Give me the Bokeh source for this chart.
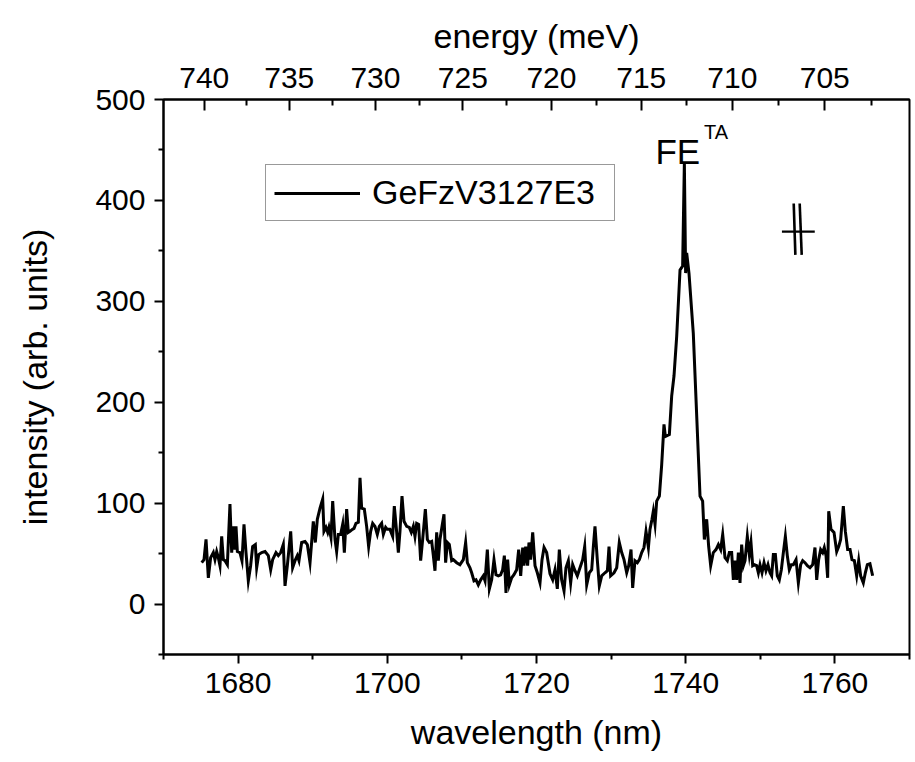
from bokeh.plotting import figure
from bokeh.models import (LinearAxis, FixedTicker, CustomJSTickFormatter, Range1d,
                          Legend, LegendItem, Label)
from bokeh.embed import file_html
from bokeh.resources import INLINE

HC = 1239.84198  # eV*nm  (E[meV] = 1e3 * HC / lambda[nm])

wavelength = [
    1675.12, 1675.43, 1675.70, 1676.01, 1676.32, 1676.68, 1676.90, 1677.13, 1677.35, 1677.57,
    1677.80, 1678.02, 1678.24, 1678.56, 1678.91, 1679.14, 1679.36, 1679.58, 1679.72, 1679.90,
    1680.25, 1680.52, 1680.79, 1681.06, 1681.37, 1681.68, 1681.95, 1682.31, 1682.49, 1682.76,
    1683.16, 1683.61, 1684.05, 1684.37, 1684.63, 1685.08, 1685.39, 1685.71, 1686.06, 1686.29,
    1686.60, 1687.05, 1687.31, 1687.63, 1687.94, 1688.16, 1688.52, 1688.97, 1689.28, 1689.64,
    1690.08, 1690.35, 1690.62, 1690.98, 1691.34, 1691.51, 1691.78, 1692.01, 1692.18, 1692.45,
    1692.68, 1692.99, 1693.21, 1693.44, 1693.75, 1694.02, 1694.24, 1694.55, 1694.78, 1695.00,
    1695.31, 1695.54, 1695.80, 1696.12, 1696.34, 1696.56, 1696.92, 1697.23, 1697.50, 1697.77,
    1698.04, 1698.35, 1698.66, 1698.93, 1699.24, 1699.47, 1699.78, 1700.00, 1700.36, 1700.72,
    1700.94, 1701.26, 1701.48, 1701.70, 1701.97, 1702.24, 1702.60, 1702.95, 1703.22, 1703.49,
    1703.71, 1703.94, 1704.20, 1704.47, 1704.74, 1705.10, 1705.37, 1705.63, 1705.95, 1706.17,
    1706.39, 1706.62, 1706.84, 1707.06, 1707.38, 1707.60, 1707.82, 1708.05, 1708.31, 1708.63,
    1708.85, 1709.30, 1709.74, 1710.19, 1710.50, 1710.73, 1711.08, 1711.31, 1711.62, 1711.89,
    1712.20, 1712.52, 1712.87, 1713.10, 1713.41, 1713.68, 1713.99, 1714.30, 1714.57, 1714.88,
    1715.19, 1715.46, 1715.69, 1715.91, 1716.13, 1716.36, 1716.67, 1716.98, 1717.34, 1717.61,
    1717.88, 1718.15, 1718.32, 1718.55, 1718.81, 1718.99, 1719.22, 1719.49, 1719.80, 1720.11,
    1720.47, 1720.74, 1721.01, 1721.36, 1721.81, 1722.17, 1722.48, 1722.79, 1723.06, 1723.37,
    1723.69, 1723.95, 1724.27, 1724.58, 1724.85, 1725.16, 1725.47, 1725.83, 1726.19, 1726.46,
    1726.73, 1727.08, 1727.40, 1727.62, 1727.84, 1728.16, 1728.42, 1728.74, 1729.18, 1729.50,
    1729.72, 1729.94, 1730.39, 1730.75, 1731.10, 1731.42, 1731.73, 1732.09, 1732.36, 1732.67,
    1732.89, 1733.20, 1733.52, 1733.79, 1734.10, 1734.41, 1734.68, 1735.00, 1735.21, 1735.48,
    1735.66, 1735.89, 1736.11, 1736.47, 1736.78, 1737.09, 1737.27, 1737.81, 1738.12, 1738.43,
    1738.79, 1739.24, 1739.59, 1739.82, 1739.99, 1740.13, 1740.44, 1741.02, 1741.92, 1742.27,
    1742.50, 1742.81, 1743.08, 1743.35, 1743.70, 1744.06, 1744.38, 1744.69, 1744.96, 1745.27,
    1745.58, 1745.85, 1746.16, 1746.39, 1746.61, 1746.83, 1747.06, 1747.28, 1747.50, 1747.73,
    1747.95, 1748.26, 1748.53, 1748.75, 1748.98, 1749.20, 1749.51, 1749.74, 1749.96, 1750.23,
    1750.50, 1750.76, 1751.03, 1751.30, 1751.52, 1751.75, 1752.02, 1752.28, 1752.55, 1752.82,
    1753.09, 1753.36, 1753.62, 1753.89, 1754.16, 1754.43, 1754.79, 1755.10, 1755.41, 1755.68,
    1755.99, 1756.31, 1756.66, 1757.02, 1757.33, 1757.56, 1757.82, 1758.09, 1758.36, 1758.58,
    1758.81, 1759.03, 1759.17, 1759.48, 1759.88, 1760.24, 1760.51, 1760.77, 1761.13, 1761.40,
    1761.71, 1762.03, 1762.29, 1762.61, 1762.92, 1763.19, 1763.45, 1763.81, 1764.08, 1764.35,
    1764.70, 1765.06,
]

intensity = [
    41, 44, 64, 26, 46, 51, 44, 52, 46, 38,
    67, 44, 43, 39, 99, 51, 77, 54, 77, 52,
    51, 43, 79, 51, 23, 38, 57, 59, 36, 49,
    51, 52, 48, 34, 44, 51, 48, 51, 59, 18,
    38, 72, 36, 43, 48, 43, 61, 62, 59, 41,
    82, 61, 84, 95, 104, 72, 76, 71, 76, 66,
    102, 64, 52, 69, 69, 79, 51, 94, 71, 72,
    74, 75, 80, 81, 125, 95, 94, 77, 57, 72,
    80, 77, 69, 77, 80, 69, 76, 74, 74, 67,
    97, 71, 51, 72, 107, 82, 77, 76, 71, 77,
    67, 80, 79, 43, 64, 94, 64, 61, 62, 48,
    33, 71, 43, 64, 79, 89, 41, 61, 59, 43,
    44, 41, 39, 44, 61, 41, 36, 31, 23, 24,
    19, 24, 28, 23, 54, 15, 24, 44, 29, 28,
    29, 34, 48, 11, 44, 19, 26, 29, 34, 54,
    28, 56, 38, 57, 38, 61, 44, 71, 38, 31,
    21, 44, 56, 51, 30, 24, 34, 15, 54, 24,
    13, 36, 43, 21, 39, 33, 28, 36, 44, 57,
    19, 31, 34, 57, 77, 43, 18, 28, 31, 33,
    57, 28, 31, 36, 61, 51, 44, 31, 38, 54,
    16, 43, 41, 44, 51, 56, 72, 56, 74, 84,
    92, 79, 102, 107, 138, 178, 166, 168, 206, 226,
    265, 331, 335, 437, 328, 348, 328, 268, 107, 102,
    64, 84, 57, 38, 51, 54, 59, 54, 69, 46,
    43, 51, 51, 24, 43, 24, 51, 21, 59, 38,
    43, 67, 49, 61, 38, 39, 38, 31, 39, 31,
    41, 33, 39, 31, 28, 49, 49, 28, 24, 34,
    51, 67, 48, 34, 39, 39, 44, 21, 39, 43,
    41, 38, 36, 39, 56, 24, 44, 54, 51, 56,
    48, 26, 92, 74, 71, 52, 57, 64, 97, 72,
    54, 54, 44, 43, 28, 43, 28, 21, 31, 39,
    40, 28,
]

series_name = "GeFzV3127E3"
x_major = [1680, 1700, 1720, 1740, 1760]
x_minor = [1670, 1690, 1710, 1730, 1750, 1770]
y_major = [0, 100, 200, 300, 400, 500]
y_minor = [-50, 50, 150, 250, 350, 450]
energy_major = [740, 735, 730, 725, 720, 715, 710, 705]
energy_minor = [737.5, 732.5, 727.5, 722.5, 717.5, 712.5, 707.5, 702.5]

# resolution marker (wavelength, intensity)
res_h_x = [1752.9, 1757.3]
res_h_y = [369, 369]
res_v1_x = [1754.48, 1754.70]
res_v2_x = [1755.28, 1755.55]
res_v_y = [397, 346]

FONT = "Liberation Sans"

p = figure(width=915, height=762, output_backend="svg", toolbar_location=None,
           x_range=Range1d(1670, 1770), y_range=Range1d(-50, 500),
           min_border_left=163, min_border_right=6, min_border_top=99, min_border_bottom=108)
p.grid.visible = False
p.outline_line_color = "black"
p.outline_line_width = 2
p.background_fill_color = "white"
p.border_fill_color = "white"

line = p.line(wavelength, intensity, line_color="black", line_width=3, line_join="miter")

# resolution marker
p.line(res_h_x, res_h_y, line_color="black", line_width=2.2)
p.line(res_v1_x, res_v_y, line_color="black", line_width=2.6)
p.line(res_v2_x, res_v_y, line_color="black", line_width=2.6)

xa = p.xaxis[0]
xa.ticker = FixedTicker(ticks=x_major, minor_ticks=x_minor)
xa.axis_label = "wavelength (nm)"
ya = p.yaxis[0]
ya.ticker = FixedTicker(ticks=y_major, minor_ticks=y_minor)
ya.axis_label = "intensity (arb. units)"

top = LinearAxis(
    ticker=FixedTicker(ticks=[HC / (e / 1000) for e in energy_major],
                       minor_ticks=[HC / (e / 1000) for e in energy_minor]),
    formatter=CustomJSTickFormatter(code="return String(Math.round(1239.84198 / tick * 1000));"),
    axis_label="energy (meV)")
p.add_layout(top, "above")

for ax in (xa, ya, top):
    ax.axis_line_width = 2
    ax.axis_line_color = "black"
    ax.major_tick_line_width = 2
    ax.minor_tick_line_width = 2
    ax.major_tick_line_color = "black"
    ax.minor_tick_line_color = "black"
    ax.major_label_text_font = FONT
    ax.major_label_text_font_size = "30px"
    ax.major_label_text_color = "black"
    ax.axis_label_text_font = FONT
    ax.axis_label_text_font_size = "34px"
    ax.axis_label_text_font_style = "normal"
    ax.axis_label_text_color = "black"

for ax in (xa, ya):
    ax.major_tick_in = 0
    ax.minor_tick_in = 0
    ax.major_tick_out = 9
    ax.minor_tick_out = 5

top.major_tick_in = 11
top.major_tick_out = 0
top.minor_tick_in = 6
top.minor_tick_out = 0

xa.major_label_standoff = 9
xa.axis_label_standoff = 17
ya.major_label_standoff = 9
ya.axis_label_standoff = 38
top.major_label_standoff = 12
top.axis_label_standoff = 10

legend = Legend(items=[LegendItem(label=series_name, renderers=[line])],
                location=(102, 433), padding=8, margin=0, spacing=0,
                glyph_width=86, glyph_height=30, label_standoff=12, label_width=234,
                label_text_font=FONT, label_text_font_size="34px", label_text_color="black",
                border_line_color="#333333", border_line_width=1.2,
                background_fill_alpha=1)
p.add_layout(legend, "center")

fe = Label(x=1735.95, y=448, text="FE", text_font=FONT, text_font_size="35px",
           text_color="black", text_align="left", text_baseline="alphabetic")
ta = Label(x=1742.45, y=468, text="TA", text_font=FONT, text_font_size="20px",
           text_color="black", text_align="left", text_baseline="alphabetic")
p.add_layout(fe)
p.add_layout(ta)

open("out.html", "w").write(file_html(p, INLINE))
